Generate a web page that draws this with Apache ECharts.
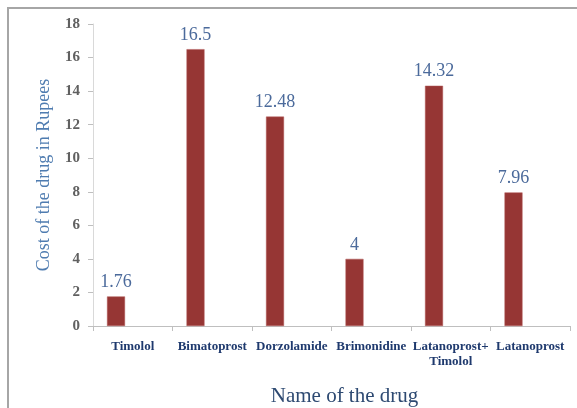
<!DOCTYPE html>
<html>
<head>
<meta charset="utf-8">
<script src="https://cdn.jsdelivr.net/npm/echarts@6/dist/echarts.min.js"></script>
<style>
html,body{margin:0;padding:0;background:#fff;}
#c{width:577px;height:408px;}
</style>
</head>
<body>
<div id="c"></div>
<script>
const categories = ['Timolol', 'Bimatoprost', 'Dorzolamide', 'Brimonidine', 'Latanoprost+\nTimolol', 'Latanoprost'];
const costs = [1.76, 16.5, 12.48, 4, 14.32, 7.96];
const yTicks = { min: 0, max: 18, interval: 2 };

const serif = '"Liberation Serif", "DejaVu Serif", serif';
const chart = echarts.init(document.getElementById('c'));
chart.setOption({
  animation: false,
  graphic: [{
    type: 'rect',
    shape: { x: 8, y: 8, width: 620, height: 430 },
    style: { fill: 'none', stroke: '#a6a6a6', lineWidth: 2 },
    silent: true
  }],
  grid: { left: 93, right: 7, top: 24, bottom: 82, containLabel: false, outerBoundsMode: 'none' },
  xAxis: {
    type: 'category',
    data: categories,
    name: 'Name of the drug',
    nameLocation: 'middle',
    nameGap: 60,
    nameTextStyle: { fontFamily: serif, fontSize: 21, color: '#2e4a72', padding: [0, 0, 0, 26] },
    axisLine: { lineStyle: { color: '#bfbfbf', width: 1 } },
    axisTick: { show: true, alignWithLabel: false, length: 5, lineStyle: { color: '#bfbfbf' } },
    axisLabel: { interval: 0, margin: 13, fontFamily: serif, fontSize: 13, fontWeight: 'bold', color: '#1f3a6e', lineHeight: 15 }
  },
  yAxis: {
    type: 'value',
    min: yTicks.min, max: yTicks.max, interval: yTicks.interval,
    name: 'Cost of the drug in Rupees',
    nameLocation: 'middle',
    nameGap: 40,
    nameTextStyle: { fontFamily: serif, fontSize: 18, color: '#4f7cb0' },
    axisLine: { show: true, lineStyle: { color: '#d9d9d9' } },
    axisTick: { show: true, length: 5, lineStyle: { color: '#bfbfbf' } },
    splitLine: { show: false },
    axisLabel: { margin: 13, fontFamily: serif, fontSize: 15, fontWeight: 'bold', color: '#606060' }
  },
  series: [{
    type: 'bar',
    data: costs,
    barWidth: 18,
    barGap: '86%',
    itemStyle: { color: '#963634', borderColor: '#b35a58', borderWidth: 0.5 },
    label: { show: true, position: 'top', distance: 5, fontFamily: serif, fontSize: 18, color: '#4b6a9b' }
  }, {
    type: 'bar',
    data: costs.map(() => null),
    barWidth: 18
  }]
});
</script>
</body>
</html>
